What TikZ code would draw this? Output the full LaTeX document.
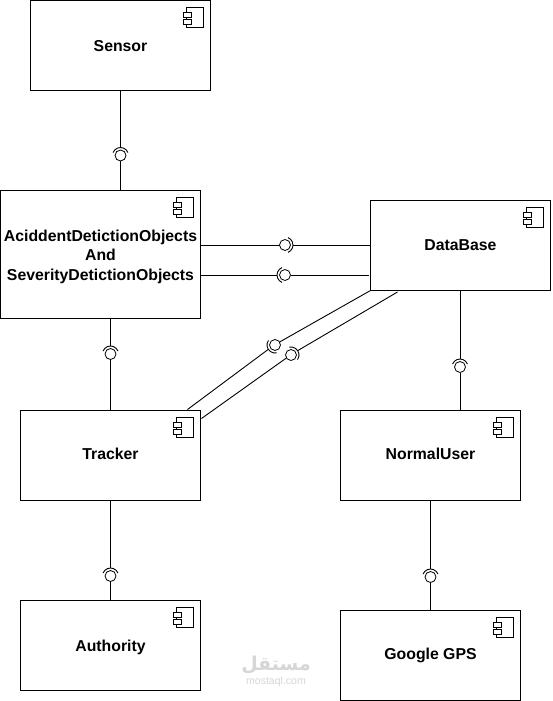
\documentclass[tikz,border=0pt]{standalone}
\usepackage{fontspec}
\setmainfont{Liberation Sans}
\newfontfamily\arabicfont[Script=Arabic]{DejaVu Sans}
\TeXXeTstate=1
\usetikzlibrary{calc}
\tikzset{
  comp/.style={draw=black,line width=1pt,fill=white,inner sep=0pt,outer sep=0pt,align=center,
    font=\bfseries\fontsize{15.8}{19.5}\selectfont,minimum width=#1},
  comp/.default=180pt,
  drop/.style={text height=#1,text depth=0pt},
  ball/.style={circle,draw=black,line width=.8pt,fill=white,minimum size=11pt,inner sep=0pt,outer sep=0pt},
  wire/.style={draw=black,line width=.9pt},
  icon/.style={draw=black,line width=.8pt,fill=white},
  mark text/.style={text=black!16,inner sep=0pt},
  compicon/.pic={
    \draw[icon] (-24pt,-7pt) rectangle (-7pt,-27pt);
    \draw[icon] (-27pt,-12pt) rectangle (-19pt,-17pt);
    \draw[icon] (-27pt,-19pt) rectangle (-19pt,-24pt);
  }
}
% a lollipop joint: #1 ball, #2 canvas angle of the socket side, #3 end beyond the socket, #4 end beyond the ball
\newcommand{\joint}[4]{%
  \draw[wire] (#3) -- ([shift={(#2:8pt)}]#1.center);
  \draw[wire] ([shift={(#2-68:8pt)}]#1.center) arc[start angle=#2-68,delta angle=136,radius=8pt];
  \draw[wire] (#1.#2+180) -- (#4);
}
\begin{document}
\begin{tikzpicture}[x=1pt,y=-1pt]
\useasboundingbox (0,0) rectangle (552,701);
\fill[white] (0,0) rectangle (552,701);
% watermark
\node[mark text,font=\arabicfont\bfseries\fontsize{19}{19}\selectfont] (wma) at (276,665) {\beginR مستقل\endR};
\node[mark text,font=\fontsize{10.5}{10.5}\selectfont] (wmb) at (276,682) {mostaql.com};
% components
\node[comp,drop=12pt,minimum height=90pt] (sensor) at (120.5,45.5) {Sensor};
\node[comp=200pt,minimum height=128pt] (acc) at (100.5,254.5) {\rule{0pt}{15.5pt}AciddentDetictionObjects\\And\\SeverityDetictionObjects};
\node[comp,drop=10pt,minimum height=90pt] (db) at (460.5,245.5) {DataBase};
\node[comp,drop=8pt,minimum height=90pt] (tracker) at (110.5,455.5) {Tracker};
\node[comp,drop=8pt,minimum height=90pt] (normal) at (430.5,455.5) {NormalUser};
\node[comp,drop=12pt,minimum height=90pt] (auth) at (110.5,645.5) {Authority};
\node[comp,drop=8pt,minimum height=90pt] (gps) at (430.5,655.5) {Google GPS};
\foreach \n in {sensor,acc,db,tracker,normal,auth,gps}
  \pic at (\n.north east) {compicon};
% balls
\node[ball] (b1) at (120.5,155.5) {};
\node[ball] (b2) at (285,245) {};
\node[ball] (b3) at (285,275) {};
\node[ball] (b4) at (275,345) {};
\node[ball] (b5) at (291,355) {};
\node[ball] (b6) at (110.5,354) {};
\node[ball] (b7) at (460,367) {};
\node[ball] (b8) at (110.5,576) {};
\node[ball] (b9) at (430.5,577) {};
% free ends of the slanted and short wires
\coordinate (d1) at (db.south west);
\coordinate (d2) at ($(db.south west)+(27,1.5)$);
\coordinate (t1) at ($(tracker.north east)+(-13,-1)$);
\coordinate (t2) at ($(tracker.north east)+(1,8)$);
\coordinate (d3) at ($(b3 -| db.west)+(-2,0)$);
% connectors
\joint{b1}{90}{b1 |- sensor.south}{b1 |- acc.north}
\joint{b2}{0}{b2 -| db.west}{b2 -| acc.east}
\joint{b3}{180}{b3 -| acc.east}{d3}
\joint{b4}{213}{t1}{d1}
\joint{b5}{33}{d2}{t2}
\joint{b6}{90}{b6 |- acc.south}{b6 |- tracker.north}
\joint{b7}{90}{b7 |- db.south}{b7 |- normal.north}
\joint{b8}{90}{b8 |- tracker.south}{b8 |- auth.north}
\joint{b9}{90}{b9 |- normal.south}{b9 |- gps.north}
\end{tikzpicture}
\end{document}
